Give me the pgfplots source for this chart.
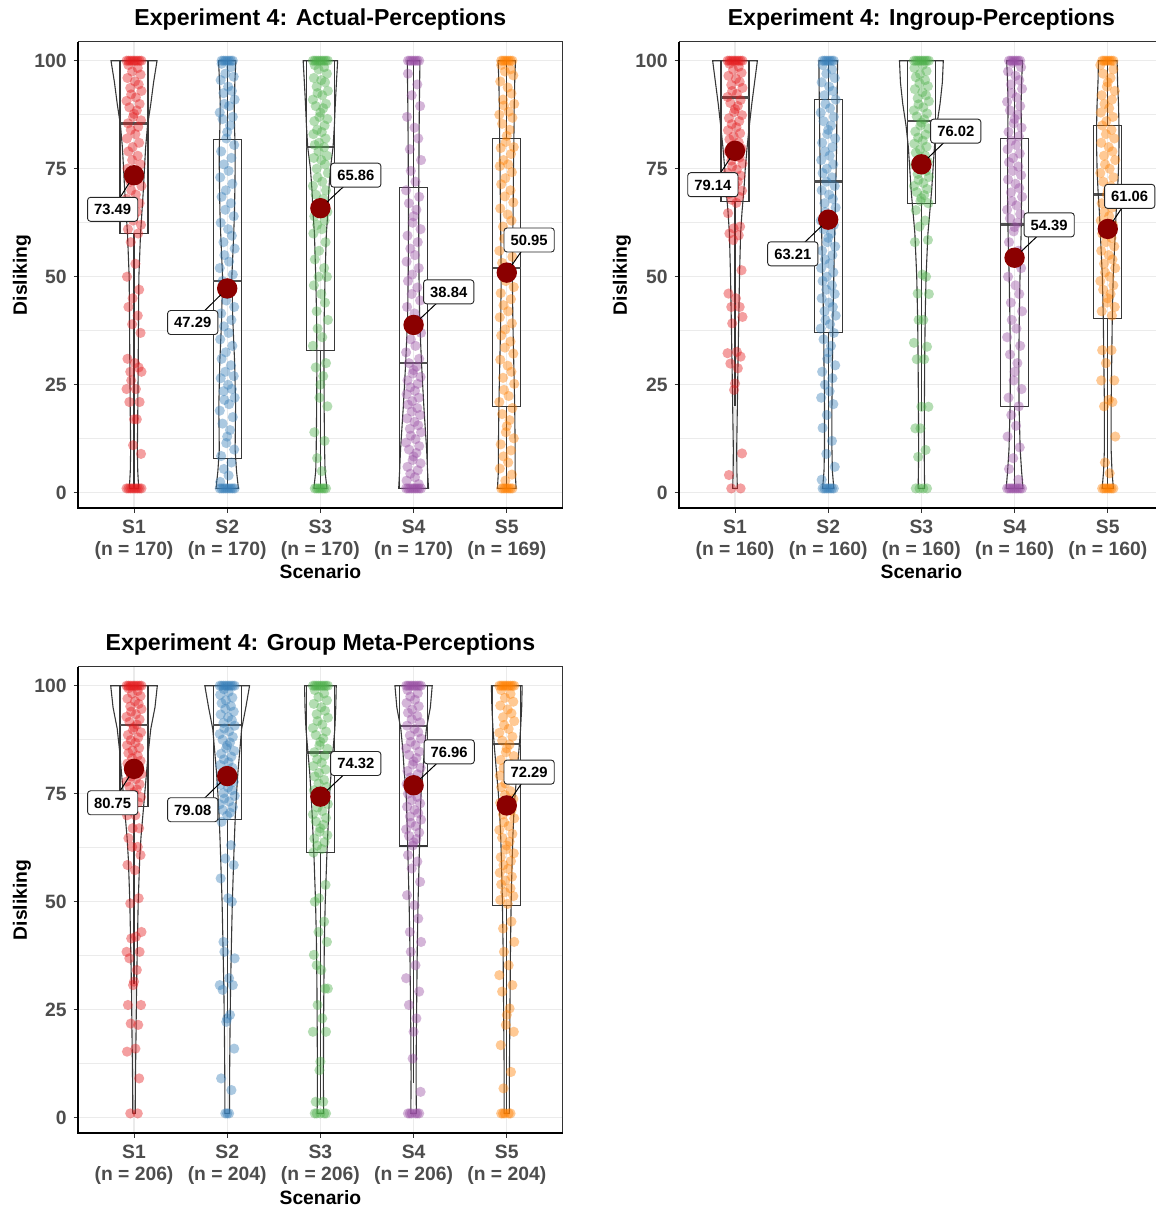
\documentclass[border=0pt]{standalone}
\usepackage{fontspec}
\setmainfont{Liberation Sans}
\usepackage{pgfplots}
\usepackage{pgfplotstable}
\pgfplotsset{compat=1.18}
\usepgfplotslibrary{statistics}

\definecolor{cA}{HTML}{E41A1C}
\definecolor{cB}{HTML}{377EB8}
\definecolor{cC}{HTML}{4DAF4A}
\definecolor{cD}{HTML}{984EA3}
\definecolor{cE}{HTML}{FF7F00}
\definecolor{meanred}{HTML}{8B0000}
\definecolor{gridc}{HTML}{EBEBEB}
\definecolor{tickc}{HTML}{4D4D4D}
\definecolor{boxc}{HTML}{383838}
\definecolor{medc}{HTML}{505050}

% ---------- violin half-widths (x units) for S1..S5 at each Disliking level ----------
\pgfplotstableread{
y a b c d e
1 0 0 0 0 0
1 .05 .12 .07 .16 .10
5 .04 .10 .05 .15 .09
10 .036 .085 .045 .14 .09
20 .041 .09 .04 .11 .085
30 .045 .08 .038 .085 .075
40 .048 .06 .04 .065 .065
50 .052 .05 .05 .058 .06
60 .07 .07 .064 .055 .065
65 .085 .078 .08 .055 .068
70 .10 .082 .09 .055 .07
75 .112 .085 .107 .057 .072
80 .125 .085 .136 .058 .075
85 .145 .078 .15 .06 .078
90 .18 .075 .16 .062 .08
95 .21 .082 .172 .065 .085
100 .247 .093 .185 .068 .093
100 0 0 0 0 0
}\vioA
\pgfplotstableread{
y a b c d e
1 0 0 0 0 0
1 .025 .06 .035 .09 .06
5 .02 .045 .032 .075 .045
10 .018 .04 .03 .06 .036
20 .025 .04 .032 .048 .036
30 .032 .045 .035 .045 .042
40 .04 .05 .04 .05 .048
50 .048 .06 .05 .058 .058
60 .06 .07 .07 .07 .08
65 .075 .075 .09 .073 .09
70 .095 .08 .11 .075 .105
75 .11 .085 .125 .075 .115
80 .13 .09 .14 .075 .12
85 .154 .092 .165 .072 .12
90 .18 .095 .20 .07 .115
95 .21 .098 .225 .075 .105
100 .24 .10 .235 .085 .10
100 0 0 0 0 0
}\vioB
\pgfplotstableread{
y a b c d e
1 0 0 0 0 0
1 .013 .025 .035 .03 .028
5 .014 .025 .033 .028 .028
10 .016 .026 .032 .027 .028
20 .022 .03 .034 .03 .032
30 .027 .036 .037 .035 .036
40 .036 .045 .042 .04 .04
50 .045 .055 .052 .048 .047
60 .061 .07 .068 .06 .058
65 .075 .078 .078 .066 .065
70 .095 .087 .088 .072 .075
75 .115 .10 .10 .08 .09
80 .135 .115 .115 .10 .11
85 .155 .135 .135 .115 .13
90 .18 .155 .155 .137 .148
95 .225 .20 .165 .18 .16
100 .25 .24 .17 .20 .165
100 0 0 0 0 0
}\vioC

% ---------- individual responses: jitter offset d, then Disliking for S1..S5 ----------
\pgfplotstableread{
d s1 s2 s3 s4 s5
-.08 100 nan 100 nan nan
-.06 100 100 100 100 100
-.04 100 100 100 100 100
-.02 100 100 100 100 100
0 100 100 100 100 100
.02 100 100 100 100 100
.04 100 100 100 100 100
.06 100 100 100 100 100
.08 100 nan 100 nan nan
-.06 99 99.3 99 97 99
.04 98.3 98.5 98.5 94.5 98
-.02 97.5 97 98 92 97.5
.07 96.8 96.3 97 89.5 96.6
-.07 96 95.5 96 87 95.2
.01 95.2 94 95.5 84.5 93.8
.05 94.5 93 95 82 92.4
-.04 93.7 92.5 94 79.5 91
.08 93 91 93 77 90
-.03 92.2 90 92.5 74.5 89.6
.02 91.5 89.5 92 72 88.2
-.08 90.7 88 91 70 87.5
.06 90 87 90 68.5 86.8
-.05 89.2 86.5 89.5 67 85.4
.03 88.5 85 89 65.5 84
0 87.7 83.5 88 64 82.6
-.01 87 82 87 62.5 81.2
.075 86.2 80.5 86.5 61 80
-.065 85.5 79 86 59.5 79.8
.045 84.7 77.5 85 58 78.4
-.035 84 76 84 56.5 77
.015 83 74.5 83.5 55 76
-.075 82 73 83 53.5 75.6
.055 81 71.5 82 52 74.2
-.015 80 70 81 50.5 72.8
-.06 79 68.5 80.5 49 71.4
.04 78 67 80 47.5 70
-.02 77 65.5 79 46 68.6
.07 76 64 78 44.5 67.2
-.07 75 62.5 77.5 43 65.8
.01 74 61 77 41.5 64.4
.05 73 59.5 76 40 63
-.04 72 58 75 38.5 61.6
.08 71 56.5 74 37 60.2
-.03 70 55 73 35.5 58.8
.02 69 53.5 72 34 57.4
-.08 68 52 71 32.5 56
.06 67 50.5 70 31 54.6
-.05 66 49 69 30 53.2
.03 65 47.5 68 29.2 51.8
0 64 46 67 28.4 50.4
-.01 63 44.5 66 27.6 49
.075 62 43 65 26.8 47.6
-.065 61 41.5 64 26 46.2
.045 60 40 63 25.2 44.8
-.035 58 38.5 62 24.4 43.4
.015 53 37 61 23.6 42
-.075 50 35.5 60 22.8 40.6
.055 47 34 58 22 39.2
-.015 45 32.5 56 21.2 37.8
-.06 43 31 54 20.4 36.4
.04 41 29.5 52 19.6 35
-.02 39 28 50 18.8 33.6
.07 37 27 50 18 32.2
-.07 31 26.5 48 17.2 30.8
.01 30 25 46 16.4 29.4
.05 29 24 44 15.6 28
-.04 28 23.5 42 14.8 26.6
.08 28 22 40 14 25.2
-.03 26 21.5 38 13.2 23.8
.02 24 20.5 36 12.4 22.4
-.08 24 19 34 11.6 21
.06 21 17.5 30 10.8 19.6
-.05 21 16 29 10 18.2
.03 17 14.5 27 9.2 16.8
0 17 13 25 8.4 15.4
-.01 11 11.5 22 7.6 14
.075 9 10 20 6.8 12.6
-.065 nan 8.5 14 6 11.2
.045 nan 7 12 5.2 9.8
-.035 nan 5.5 8 4.4 8.4
.015 nan 4 5 3.6 7
-.075 nan 2.5 nan 2.8 5.6
.055 nan nan nan 2 4.2
-.015 nan nan nan nan 2.8
-.08 1 1 nan 1 nan
-.06 1 1 1 1 1
-.04 1 1 1 1 1
-.02 1 1 1 1 1
0 1 1 1 1 1
.02 1 1 1 1 1
.04 1 1 1 1 1
.06 1 1 1 1 1
.08 1 1 nan 1 nan
}\ptsA
\pgfplotstableread{
d s1 s2 s3 s4 s5
-.08 100 nan 100 nan nan
-.06 100 100 100 100 100
-.04 100 100 100 100 100
-.02 100 100 100 100 100
0 100 100 100 100 100
.02 100 100 100 100 100
.04 100 100 100 100 100
.06 100 100 100 100 100
.08 100 nan 100 nan nan
-.06 99.3 99 65.4 58 33
.04 98.6 98 63 56 33
-.02 97.9 97 61.6 54 30
.07 97.2 96 58.5 52 26
-.07 96.5 95 58 50 26
.01 95.8 94 50.5 48 21.5
.05 95.1 93 50 46 21
-.04 94.4 92 46.1 44 20
.08 93.7 91 46 42 13
-.03 93 90 40 40 7
.02 92.3 89 40 38 4.5
-.08 91.6 88 34.7 36 99
.06 90.9 87 33.8 34 98
-.05 90.2 86 30.9 32 97
.03 89.5 85 30.9 30 96
0 88.8 84 19.9 28 95
-.01 88.1 83 14.9 26 94
.075 87.4 82 19.9 24 93
-.065 86.7 81 14.9 22 92
.045 86 80 9.9 20 91
-.035 85.3 79 8.3 18 90
.015 84.6 78 99 15.5 89
-.075 83.9 77 98.3 13 88
.055 83.2 76 97.6 10.5 87
-.015 82.5 75 96.9 8 86
-.06 81.8 74 96.2 5.5 85
.04 81.1 73 95.5 3 84
-.02 80.4 72 94.8 99.5 83
.07 79.7 71 94.1 98.5 82
-.07 79 70 93.4 97.5 81
.01 78.3 69 92.7 96.5 80
.05 77.6 68 92 95.5 79
-.04 76.9 67 91.3 94.5 78
.08 76.2 66 90.6 93.5 77
-.03 75.5 65 89.9 92.5 76
.02 74.8 64 89.2 91.5 75
-.08 74.1 63 88.5 90.5 74
.06 73.4 62 87.8 89.5 73
-.05 72.7 61 87.1 88.5 72
.03 72 60 86.4 87.5 71
0 71.3 59 85.7 86.5 70
-.01 70.6 58 85 85.5 69
.075 69.9 57 84.3 84.5 68
-.065 69.2 56 83.6 83.5 67
.045 68.5 55 82.9 82.5 66
-.035 67.8 54 82.2 81.5 65
.015 67.1 53 81.5 80.5 64
-.075 64.7 52 80.8 79.5 63
.055 61.6 51 80.1 78.5 62
-.015 61.2 50 79.4 77.5 61
-.06 60 49 78.7 76.5 60
.04 59.6 48 78 75.5 59
-.02 58.5 47 77.3 74.5 58
.07 51.5 46 76.6 73.5 57
-.07 46.1 45 75.9 72.5 56
.01 45 44 75.2 71.5 55
.05 43 43 74.5 70.5 54
-.04 43 42 73.8 69.5 53
.08 40.7 41 73.1 68.5 52
-.03 39.2 40 72.4 67.5 51
.02 32.6 39 71.7 66.5 50
-.08 32.3 38 71 65.5 49
.06 31.5 37 70.3 64.5 48
-.05 29.9 35.5 69.6 63.5 47
.03 28.8 34 68.9 62.5 46
0 25.3 32.5 68.2 61.5 45
-.01 23.8 31 67.5 60.5 44
.075 9.1 29.5 67 nan 43
-.065 4.1 28 nan nan 42
.045 nan 26.5 nan nan 41
-.035 nan 25 nan nan nan
.015 nan 23.5 nan nan nan
-.075 nan 22 nan nan nan
.055 nan 20.5 nan nan nan
-.015 nan 18 nan nan nan
-.06 nan 15 nan nan nan
.04 nan 12 nan nan nan
-.02 nan 9 nan nan nan
.07 nan 6 nan nan nan
-.07 nan 3 nan nan nan
-.08 nan nan nan 1 nan
-.06 nan 1 1 1 1
-.04 1 1 nan 1 1
-.02 nan 1 1 1 1
0 nan 1 nan 1 1
.02 nan 1 1 1 1
.04 nan 1 nan 1 1
.06 1 1 1 1 1
.08 nan nan nan 1 nan
}\ptsB
\pgfplotstableread{
d s1 s2 s3 s4 s5
-.08 100 100 100 100 100
-.06 100 100 100 100 100
-.04 100 100 100 100 100
-.02 100 100 100 100 100
0 100 100 100 100 100
.02 100 100 100 100 100
.04 100 100 100 100 100
.06 100 100 100 100 100
.08 100 100 100 100 100
-.06 99.4 68.5 99 60.8 99
.04 98.8 63.1 98.2 59.3 98.1
-.02 98.2 60 97.4 57.7 97.2
.07 97.6 58.5 96.6 54.6 96.3
-.07 97 55.4 95.8 51.5 95.4
.01 96.4 50.8 95 49.2 94.5
.05 95.8 50 94.2 46.1 93.6
-.04 95.2 40.7 93.4 43 92.7
.08 94.6 36.9 92.6 40.7 91.8
-.03 94 38.4 91.8 38.4 90.9
.02 93.4 32.3 91 35.3 90
-.08 92.8 30.7 90.2 32.3 89.1
.06 92.2 30.7 89.4 29.2 88.2
-.05 91.6 29.6 88.6 26.1 87.3
.03 91 23.8 87.8 23 86.4
0 90.4 23 87 19.9 85.5
-.01 89.8 22.2 86.2 13.7 84.6
.075 89.2 16 85.4 6 83.7
-.065 88.6 9.1 84.6 99 82.8
.045 88 6.4 83.8 98.25 81.9
-.035 87.4 99.2 83 97.5 81
.015 86.8 98.55 82.2 96.75 80.1
-.075 86.2 97.9 81.4 96 79.2
.055 85.6 97.25 80.6 95.25 78.3
-.015 85 96.6 79.8 94.5 77.4
-.06 84.4 95.95 79 93.75 76.5
.04 83.8 95.3 78.2 93 75.6
-.02 83.2 94.65 77.4 92.25 74.7
.07 82.6 94 76.6 91.5 73.8
-.07 82 93.35 75.8 90.75 72.9
.01 81.4 92.7 75 90 72
.05 80.8 92.05 74.2 89.25 71.1
-.04 80.2 91.4 73.4 88.5 70.2
.08 79.6 90.75 72.6 87.75 69.3
-.03 79 90.1 71.8 87 68.4
.02 78.4 89.45 71 86.25 67.5
-.08 77.8 88.8 70.2 85.5 66.6
.06 77.2 88.15 69.4 84.75 65.7
-.05 76.6 87.5 68.6 84 64.8
.03 76 86.85 67.8 83.25 63.9
0 75.4 86.2 67 82.5 63
-.01 74.8 85.55 66.2 81.75 62.1
.075 74.2 84.9 65.4 81 61.2
-.065 73.6 84.25 64.6 80.25 60.3
.045 73 83.6 63.8 79.5 59.4
-.035 72.4 82.95 63 78.75 58.5
.015 70 82.3 62.2 78 57.6
-.075 70 81.65 61.4 77.25 56.7
.055 67 81 53.9 76.5 55.8
-.015 67 80.35 50.8 75.75 54.9
-.06 64.7 79.7 50 75 54
.04 62.7 79.05 45.4 74.25 53.1
-.02 62.7 78.4 43 73.5 52.2
.07 60.8 77.75 40.7 72.75 51.3
-.07 58.5 77.1 37.7 72 50.4
.01 57.3 76.45 34.2 71.25 49.5
.05 50.8 75.8 29.9 70.5 45.4
-.04 49.6 75.15 35.3 69.75 43.8
.08 43 74.5 29.9 69 40.7
-.03 41.5 73.85 26.1 68.25 38.4
.02 41.9 73.2 23 67.5 35.3
-.08 38.4 72.55 19.9 66.75 33
.06 38.4 71.9 19.9 66 30.7
-.05 36.9 71.25 3.7 65.25 29.2
.03 34.2 70.6 3.7 64.5 25.3
0 31.5 69.95 13 63.75 23.8
-.01 30.7 nan 11 63 21.5
.075 26.1 nan nan nan 19.9
-.065 26.1 nan nan nan 16.8
.045 21.5 nan nan nan 10.6
-.035 21.8 nan nan nan 6.8
.015 16 nan nan nan nan
-.075 15.3 nan nan nan nan
.055 9.1 nan nan nan nan
-.08 nan nan nan nan nan
-.06 nan nan 1 1 1
-.04 1 nan 1 1 1
-.02 nan 1 nan 1 1
0 nan 1 1 nan nan
.02 nan 1 nan 1 1
.04 1 nan 1 1 1
.06 nan nan 1 1 nan
.08 nan nan nan nan nan
}\ptsC

\tikzset{
  lab/.style={draw=black!85, fill=white, rounded corners=1.5pt, line width=0.45pt,
    inner xsep=3.3pt, inner ysep=3.3pt, text height=5.4pt, text depth=0pt,
    font=\bfseries\fontsize{7.4}{8}\selectfont},
  ttl/.style={font=\bfseries\fontsize{11.55}{13}\selectfont, anchor=base},
  axt/.style={font=\bfseries\fontsize{9.65}{11}\selectfont},
}
\pgfplotsset{
  panel/.style={
    scale only axis, width=242.3pt, height=233.3pt,
    xmin=0.4, xmax=5.6, ymin=-3.6, ymax=104.4,
    xtick={1,2,3,4,5}, ytick={0,25,50,75,100},
    minor ytick={12.5,37.5,62.5,87.5},
    grid=both,
    major grid style={gridc, line width=0.6pt},
    minor grid style={gridc, line width=0.45pt},
    axis line style={black!80, line width=0.5pt},
    tick align=outside, tick pos=left,
    major tick length=2.2pt, minor tick length=0pt,
    tick style={black!80, line width=0.5pt},
    ticklabel style={font=\bfseries\fontsize{9.65}{11}\selectfont, text=tickc},
    xticklabel style={align=center},
    /pgf/number format/assume math mode=true,
    clip=false,
  },
  vio/.style={boxc, line width=0.55pt},
  jit/.style={only marks, mark=*, mark size=2.55pt, color=#1,
    mark options={draw opacity=0, fill=#1, fill opacity=0.42}},
  bx/.style={draw=boxc, line width=0.55pt, solid, fill=none,
    boxplot/every median/.style={draw=medc, line width=1.3pt}},
}

\newcommand\jitter[4]{%
  \addplot[jit=#1] table[x expr={#2+\thisrow{d}}, y=#3]{#4};}
\newcommand\violin[3]{%
  \addplot[vio] table[x expr={#1+\thisrow{#2}}, y=y]{#3};
  \addplot[vio] table[x expr={#1-\thisrow{#2}}, y=y]{#3};}
\newcommand\bp[5]{%
  \addplot[bx, boxplot prepared={draw direction=y, draw position=#1, lower whisker=#2,
    lower quartile=#3, median=#4, upper quartile=#5, upper whisker=100,
    box extend=0.3, whisker extend=0}] coordinates {};}
% mean marker; its label anchor is stored as <name>m / <name>l
\newcommand\meanpt[5]{%
  \addplot[only marks, mark=*, mark size=5.1pt,
    mark options={draw opacity=0, fill=meanred}] coordinates {(#1,#2)};
  \coordinate (#5m) at (axis cs:#1,#2);
  \coordinate (#5l) at (axis cs:#3,#4);}
\newcommand\meanlab[2]{%
  \draw[black, line width=0.5pt, shorten <=4.6pt] (#1m) -- (#1l);
  \node[lab] at (#1l) {#2};}
\newcommand\frameLB[1]{%
  \draw[black, line width=1pt] (#1.north west) -- (#1.south west) -- (#1.south east);}

\begin{document}
\begin{tikzpicture}
\path[use as bounding box] (0,0) rectangle (578pt,603.5pt);
\clip (0,0) rectangle (578pt,603.5pt);

% ---------------- Actual-Perceptions ----------------
\begin{axis}[panel, name=pA, at={(39.05pt,349.35pt)}, anchor=south west,
  xticklabels={S1\\(n = 170), S2\\(n = 170), S3\\(n = 170), S4\\(n = 170), S5\\(n = 169)}]
\jitter{cA}{1}{s1}{\ptsA}
\jitter{cB}{2}{s2}{\ptsA}
\jitter{cC}{3}{s3}{\ptsA}
\jitter{cD}{4}{s4}{\ptsA}
\jitter{cE}{5}{s5}{\ptsA}
\bp{1}{1}{60}{85.5}{100}
\bp{2}{1}{8}{49}{81.8}
\bp{3}{1}{33}{80}{100}
\bp{4}{1}{1}{30}{70.7}
\bp{5}{1}{20}{52}{82}
\violin{1}{a}{\vioA}
\violin{2}{b}{\vioA}
\violin{3}{c}{\vioA}
\violin{4}{d}{\vioA}
\violin{5}{e}{\vioA}
\meanpt{1}{73.49}{0.771}{65.6}{A1}
\meanpt{2}{47.29}{1.630}{39.4}{A2}
\meanpt{3}{65.86}{3.380}{73.5}{A3}
\meanpt{4}{38.84}{4.377}{46.5}{A4}
\meanpt{5}{50.95}{5.240}{58.5}{A5}
\end{axis}
\frameLB{pA}
\meanlab{A1}{73.49}
\meanlab{A2}{47.29}
\meanlab{A3}{65.86}
\meanlab{A4}{38.84}
\meanlab{A5}{50.95}

% ---------------- Ingroup-Perceptions ----------------
\begin{axis}[panel, name=pB, at={(339.55pt,349.35pt)}, anchor=south west,
  xticklabels={S1\\(n = 160), S2\\(n = 160), S3\\(n = 160), S4\\(n = 160), S5\\(n = 160)}]
\jitter{cA}{1}{s1}{\ptsB}
\jitter{cB}{2}{s2}{\ptsB}
\jitter{cC}{3}{s3}{\ptsB}
\jitter{cD}{4}{s4}{\ptsB}
\jitter{cE}{5}{s5}{\ptsB}
\bp{1}{20}{67.4}{91.5}{100}
\bp{2}{1}{37}{72}{91}
\bp{3}{19}{67}{86}{100}
\bp{4}{1}{20}{62.1}{82}
\bp{5}{1}{40.3}{69.1}{85.1}
\violin{1}{a}{\vioB}
\violin{2}{b}{\vioB}
\violin{3}{c}{\vioB}
\violin{4}{d}{\vioB}
\violin{5}{e}{\vioB}
\meanpt{1}{79.14}{0.762}{71.3}{B1}
\meanpt{2}{63.21}{1.620}{55.3}{B2}
\meanpt{3}{76.02}{3.369}{83.7}{B3}
\meanpt{4}{54.39}{4.371}{62.0}{B4}
\meanpt{5}{61.06}{5.235}{68.6}{B5}
\end{axis}
\frameLB{pB}
\meanlab{B1}{79.14}
\meanlab{B2}{63.21}
\meanlab{B3}{76.02}
\meanlab{B4}{54.39}
\meanlab{B5}{61.06}

% ---------------- Group Meta-Perceptions ----------------
\begin{axis}[panel, name=pC, at={(39.05pt,36.85pt)}, anchor=south west,
  xticklabels={S1\\(n = 206), S2\\(n = 204), S3\\(n = 206), S4\\(n = 206), S5\\(n = 204)}]
\jitter{cA}{1}{s1}{\ptsC}
\jitter{cB}{2}{s2}{\ptsC}
\jitter{cC}{3}{s3}{\ptsC}
\jitter{cD}{4}{s4}{\ptsC}
\jitter{cE}{5}{s5}{\ptsC}
\bp{1}{31}{72}{90.9}{100}
\bp{2}{23}{69.1}{90.9}{100}
\bp{3}{4}{61.4}{84.6}{100}
\bp{4}{8}{62.9}{90.7}{100}
\bp{5}{1}{49.1}{86.5}{100}
\violin{1}{a}{\vioC}
\violin{2}{b}{\vioC}
\violin{3}{c}{\vioC}
\violin{4}{d}{\vioC}
\violin{5}{e}{\vioC}
\meanpt{1}{80.75}{0.771}{72.9}{C1}
\meanpt{2}{79.08}{1.630}{71.3}{C2}
\meanpt{3}{74.32}{3.380}{82.0}{C3}
\meanpt{4}{76.96}{4.382}{84.7}{C4}
\meanpt{5}{72.29}{5.240}{80.0}{C5}
\end{axis}
\frameLB{pC}
\meanlab{C1}{80.75}
\meanlab{C2}{79.08}
\meanlab{C3}{74.32}
\meanlab{C4}{76.96}
\meanlab{C5}{72.29}

% titles and axis titles
\node[ttl] at (160.2pt,590.5pt) {Experiment 4: Actual-Perceptions};
\node[ttl] at (460.7pt,590.5pt) {Experiment 4: Ingroup-Perceptions};
\node[ttl] at (160.2pt,278pt) {Experiment 4: Group Meta-Perceptions};
\node[axt, anchor=base] at (160.2pt,314pt) {Scenario};
\node[axt, anchor=base] at (460.7pt,314pt) {Scenario};
\node[axt, anchor=base] at (160.2pt,1.5pt) {Scenario};
\node[axt, rotate=90] at (11pt,466pt) {Disliking};
\node[axt, rotate=90] at (311pt,466pt) {Disliking};
\node[axt, rotate=90] at (11pt,153.5pt) {Disliking};
\end{tikzpicture}
\end{document}
